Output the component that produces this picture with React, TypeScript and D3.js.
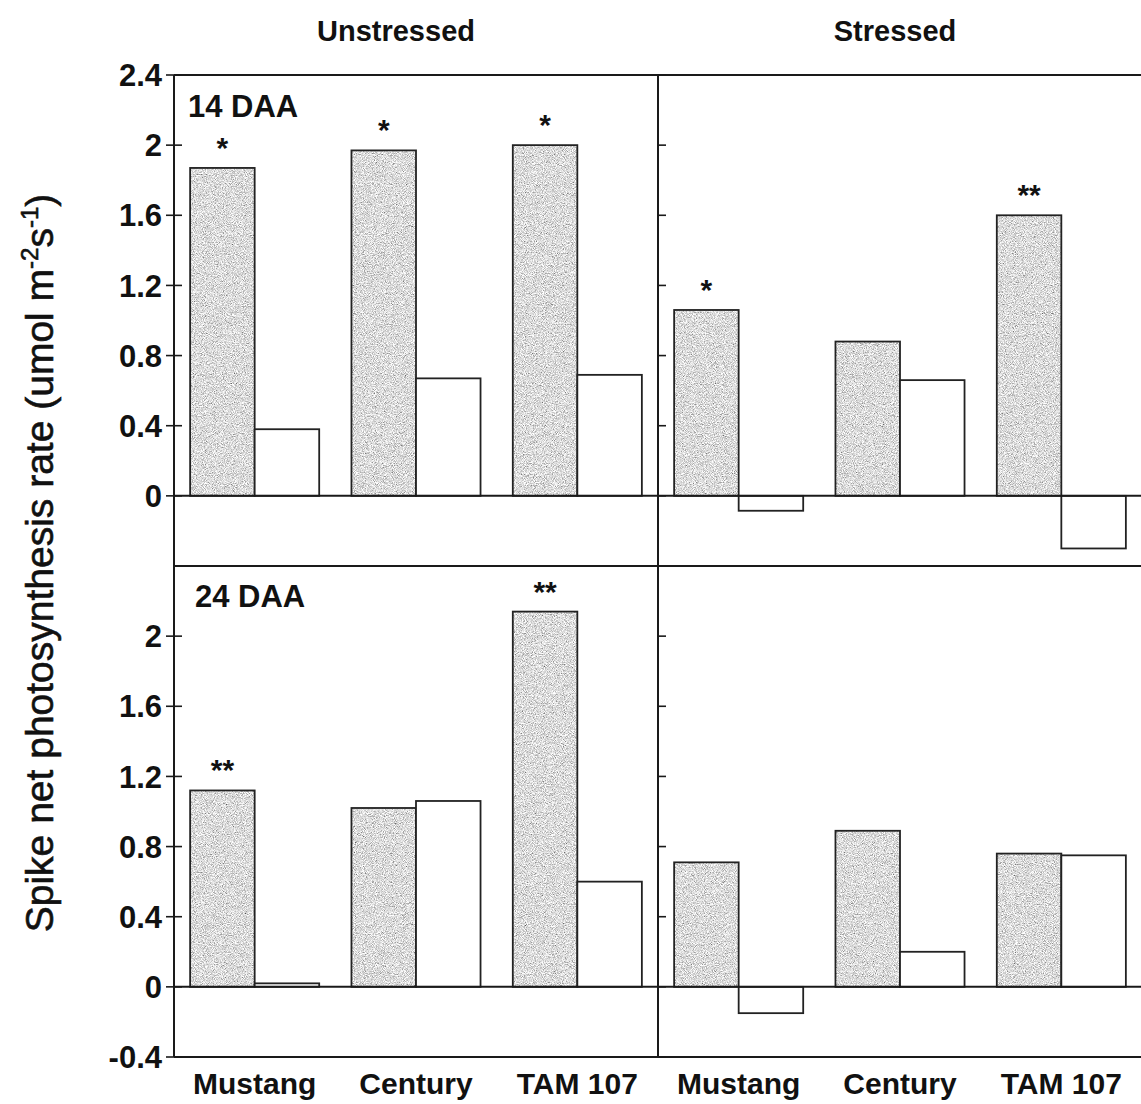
import { useEffect, useRef } from 'react';
import * as d3 from 'd3';

// cultivars, treatments, sampling dates
const cultivars = ['Mustang', 'Century', 'TAM 107'];
const treatments = ['Unstressed', 'Stressed'];
const stages = ['14 DAA', '24 DAA'];

// shaded bars / open bars
const shaded14Unstressed = [1.87, 1.97, 2.0];
const open14Unstressed = [0.38, 0.67, 0.69];
const shaded14Stressed = [1.06, 0.88, 1.6];
const open14Stressed = [-0.085, 0.66, -0.3];
const shaded24Unstressed = [1.12, 1.02, 2.14];
const open24Unstressed = [0.02, 1.06, 0.6];
const shaded24Stressed = [0.71, 0.89, 0.76];
const open24Stressed = [-0.15, 0.2, 0.75];

// significance marks above shaded bars
const marks14Unstressed = ['*', '*', '*'];
const marks14Stressed = ['*', '', '**'];
const marks24Unstressed = ['**', '', '**'];
const marks24Stressed = ['', '', ''];

const ticks14 = [2.4, 2, 1.6, 1.2, 0.8, 0.4, 0];
const ticks24 = [2, 1.6, 1.2, 0.8, 0.4, 0, -0.4];
const yDomain: [number, number] = [-0.4, 2.4];

const panels = [
  { row: 0, col: 0, shaded: shaded14Unstressed, open: open14Unstressed, marks: marks14Unstressed },
  { row: 0, col: 1, shaded: shaded14Stressed, open: open14Stressed, marks: marks14Stressed },
  { row: 1, col: 0, shaded: shaded24Unstressed, open: open24Unstressed, marks: marks24Unstressed },
  { row: 1, col: 1, shaded: shaded24Stressed, open: open24Stressed, marks: marks24Stressed },
];

const W = 1141;
const H = 1104;
const FONT = "'Liberation Sans', Arial, Helvetica, sans-serif";

export default function App() {
  const svgRef = useRef<SVGSVGElement>(null);

  useEffect(() => {
    if (!svgRef.current) return;
    const svg = d3.select(svgRef.current);
    svg.selectAll('*').remove();

    const left = 174;
    const mid = 658;
    const panelW = 484;
    const rowTops = [75, 566];
    const panelH = 491;
    const colX = [left, mid];

    // grainy grey fill for the shaded bars
    const defs = svg.append('defs');
    const f = defs
      .append('filter')
      .attr('id', 'grain')
      .attr('x', 0)
      .attr('y', 0)
      .attr('width', '100%')
      .attr('height', '100%');
    f.append('feTurbulence')
      .attr('type', 'fractalNoise')
      .attr('baseFrequency', 1.1)
      .attr('numOctaves', 2)
      .attr('seed', 7)
      .attr('result', 'n');
    f.append('feColorMatrix')
      .attr('in', 'n')
      .attr('type', 'matrix')
      .attr('values', '1.5 0 0 0 -0.04  1.5 0 0 0 -0.04  1.5 0 0 0 -0.04  0 0 0 0 1')
      .attr('result', 'g');
    f.append('feComposite').attr('in', 'g').attr('in2', 'SourceGraphic').attr('operator', 'in');

    const yScales = rowTops.map((t) =>
      d3.scaleLinear().domain(yDomain).range([t + panelH, t])
    );
    const xScales = colX.map((x0) =>
      d3.scaleBand().domain(cultivars).range([x0, x0 + panelW]).paddingInner(0.2).paddingOuter(0.1)
    );

    const g = svg.append('g');

    // bars
    panels.forEach((p) => {
      const y = yScales[p.row];
      const x = xScales[p.col];
      const sub = d3.scaleBand().domain(['shaded', 'open']).range([0, x.bandwidth()]);
      const y0 = y(0);

      cultivars.forEach((c, i) => {
        const xs = x(c)! + sub('shaded')!;
        const xo = x(c)! + sub('open')!;
        const vs = p.shaded[i];
        const vo = p.open[i];

        g.append('rect')
          .attr('x', xs)
          .attr('y', Math.min(y(vs), y0))
          .attr('width', sub.bandwidth())
          .attr('height', Math.abs(y(vs) - y0))
          .attr('fill', '#aaa')
          .attr('filter', 'url(#grain)');
        g.append('rect')
          .attr('x', xs)
          .attr('y', Math.min(y(vs), y0))
          .attr('width', sub.bandwidth())
          .attr('height', Math.abs(y(vs) - y0))
          .attr('fill', 'none')
          .attr('stroke', '#222')
          .attr('stroke-width', 1.8);

        g.append('rect')
          .attr('x', xo)
          .attr('y', Math.min(y(vo), y0))
          .attr('width', sub.bandwidth())
          .attr('height', Math.abs(y(vo) - y0))
          .attr('fill', '#fff')
          .attr('stroke', '#222')
          .attr('stroke-width', 1.8);

        if (p.marks[i]) {
          g.append('text')
            .attr('x', xs + sub.bandwidth() / 2)
            .attr('y', y(vs) - 10)
            .attr('text-anchor', 'middle')
            .attr('font-family', FONT)
            .attr('font-weight', 'bold')
            .attr('font-size', 30)
            .attr('fill', '#111')
            .text(p.marks[i]);
        }
      });
    });

    const right = mid + panelW;
    const line = (x1: number, y1: number, x2: number, y2: number, w = 2) =>
      g.append('line')
        .attr('x1', x1)
        .attr('y1', y1)
        .attr('x2', x2)
        .attr('y2', y2)
        .attr('stroke', '#1a1a1a')
        .attr('stroke-width', w);

    // zero lines
    yScales.forEach((y) => line(left, y(0), right, y(0), 2));

    // frame
    line(left, rowTops[0], right, rowTops[0]);
    line(left, rowTops[1], right, rowTops[1]);
    line(left, rowTops[1] + panelH, right, rowTops[1] + panelH);
    line(left, rowTops[0], left, rowTops[1] + panelH);
    line(mid, rowTops[0], mid, rowTops[1] + panelH);

    // y ticks
    [ticks14, ticks24].forEach((ticks, r) => {
      const y = yScales[r];
      ticks.forEach((t) => {
        line(left - 8, y(t), left + 8, y(t), 1.6);
        line(mid, y(t), mid + 8, y(t), 1.6);
        g.append('text')
          .attr('x', 162)
          .attr('y', y(t))
          .attr('dy', '0.36em')
          .attr('text-anchor', 'end')
          .attr('font-family', FONT)
          .attr('font-weight', 'bold')
          .attr('font-size', 31)
          .attr('fill', '#111')
          .text(String(t));
      });
    });

    // stage labels
    stages.forEach((s, r) => {
      g.append('text')
        .attr('x', r === 0 ? 188 : 195)
        .attr('y', rowTops[r] + (r === 0 ? 42 : 41))
        .attr('font-family', FONT)
        .attr('font-weight', 'bold')
        .attr('font-size', 31)
        .attr('fill', '#111')
        .text(s);
    });

    // treatment headers
    const headerX = [396, 895];
    treatments.forEach((t, i) => {
      g.append('text')
        .attr('x', headerX[i])
        .attr('y', 41)
        .attr('text-anchor', 'middle')
        .attr('font-family', FONT)
        .attr('font-weight', 'bold')
        .attr('font-size', 29)
        .attr('fill', '#111')
        .text(t);
    });

    // cultivar labels
    xScales.forEach((x) => {
      cultivars.forEach((c) => {
        g.append('text')
          .attr('x', x(c)! + x.bandwidth() / 2)
          .attr('y', 1094)
          .attr('text-anchor', 'middle')
          .attr('font-family', FONT)
          .attr('font-weight', 'bold')
          .attr('font-size', 30)
          .attr('fill', '#111')
          .text(c);
      });
    });

    // y axis title
    const yt = g
      .append('text')
      .attr('transform', `translate(53,563) rotate(-90)`)
      .attr('text-anchor', 'middle')
      .attr('font-family', FONT)
      .attr('font-size', 39)
      .attr('fill', '#111')
      .attr('stroke', '#111')
      .attr('stroke-width', 0.6);
    yt.append('tspan').text('Spike net photosynthesis rate (umol m');
    yt.append('tspan').attr('font-size', 24).attr('dy', -15).text('-2');
    yt.append('tspan').attr('dy', 15).text('s');
    yt.append('tspan').attr('font-size', 24).attr('dy', -15).text('-1');
    yt.append('tspan').attr('dy', 15).text(')');
  }, []);

  return (
    <svg
      ref={svgRef}
      width={W}
      height={H}
      style={{ position: 'absolute', left: 0, top: 0, background: '#fff', display: 'block' }}
    />
  );
}
